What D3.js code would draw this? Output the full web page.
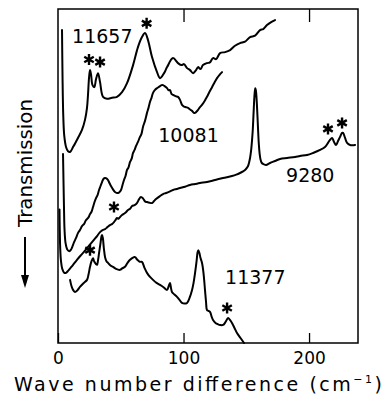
<!DOCTYPE html>
<html><head><meta charset="utf-8">
<script src="https://cdn.jsdelivr.net/npm/d3@7"></script>
<style>body{margin:0;background:#fff}</style>
</head><body><svg id="c" width="388" height="400"></svg>
<script>
// ---- data (x: wave number difference in cm^-1, y: transmission, arbitrary units) ----
const xTicks = [0, 100, 200];
const xTickLabels = ["0", "100", "200"];

const s11657 = [[3.2,93.7],[3.6,80],[4.2,68],[5.0,62],[6.4,58.7],[8.0,57.4],[9.6,57.2],[12.2,58.8],[15.9,61.4],[19.1,63.8],[21.5,66.8],[23.1,70.4],[23.9,74.3],[24.7,79.3],[25.5,81.7],[26.3,80.5],[27.5,77.2],[28.9,76.6],[30.3,79.0],[31.9,80.8],[33.5,78.1],[35.9,73.7],[39.0,73.1],[43.0,73.4],[47.0,73.7],[51.0,75.1],[55.0,77.8],[59.8,83.2],[63.7,88.6],[66.9,91.6],[69.3,92.8],[71.7,90.7],[74.9,85.6],[78.9,81.1],[81.3,79.3],[84.5,80.8],[86.9,82.6],[91.6,85.3],[95.6,83.8],[98.4,83.2],[100.4,83.5],[102.8,82.3],[105.2,81.7],[107.6,80.8],[110.0,81.7],[111.6,82.6],[113.5,82.0],[115.5,83.2],[118.7,83.8],[121.0,84.0],[123.5,85.3],[126.0,85.0],[129.1,86.8],[133.1,87.1],[137.1,87.7],[141.0,89.0],[145.0,89.8],[149.0,90.2],[153.0,91.6],[157.0,92.0],[161.0,93.7],[163.5,94.0],[166.5,95.2],[169.5,96.0],[172.9,96.7]];

const s10081 = [[4.0,56.6],[4.4,48],[4.8,40],[5.2,34],[6.0,30],[7.4,28],[9.0,27.5],[10.4,28.0],[11.6,29.0],[12.8,30.2],[14.3,31.4],[15.9,32.9],[17.5,33.8],[19.1,35.0],[20.7,35.6],[22.0,36.6],[23.1,37.1],[24.3,37.6],[25.5,38.6],[26.7,39.3],[27.9,40.7],[29.1,42.2],[30.3,43.4],[31.5,44.3],[32.7,45.8],[33.9,47.0],[35.1,48.2],[36.3,49.2],[37.5,49.4],[38.6,49.3],[39.8,48.8],[41.0,47.9],[42.2,47.0],[43.8,46.0],[45.4,45.2],[47.8,44.9],[49.0,45.2],[50.2,45.8],[51.4,47.3],[52.6,48.8],[53.8,50.0],[55.0,51.8],[56.2,52.6],[57.4,54.2],[58.6,55.1],[59.8,56.9],[61.0,57.8],[62.2,59.0],[63.7,60.2],[65.3,61.7],[66.5,62.6],[67.7,64.7],[69.3,66.5],[70.9,68.9],[72.1,70.4],[73.3,72.2],[74.5,73.4],[75.7,74.9],[77.3,75.8],[78.9,76.3],[80.1,76.6],[81.3,76.9],[82.5,77.2],[83.7,77.2],[85.3,76.8],[86.9,76.3],[88.0,75.7],[89.2,75.7],[90.4,74.6],[91.6,74.3],[93.6,73.9],[95.6,73.7],[97.2,72.8],[98.8,71.3],[100.4,70.8],[102.0,70.6],[103.6,70.4],[105.2,69.9],[106.8,69.5],[108.0,69.0],[109.2,68.9],[110.4,69.3],[111.6,69.8],[113.1,70.6],[114.7,71.3],[116.7,72.4],[118.7,73.7],[120.7,75.2],[122.7,76.6],[124.7,78.0],[126.7,79.3],[128.7,80.3],[130.7,81.1]];

const s9280 = [[1.2,40.0],[1.4,34],[1.8,28],[2.4,24.5],[3.4,22.2],[5.0,21.0],[6.4,21.0],[8.0,21.6],[10.0,22.5],[12.0,23.4],[15.1,24.9],[18.3,26.3],[20.7,27.3],[23.1,28.4],[25.1,29.3],[27.1,30.2],[29.1,31.1],[31.1,32.0],[33.5,33.2],[35.5,33.8],[37.5,34.1],[39.4,34.7],[41.4,35.3],[43.0,35.6],[44.6,36.2],[45.8,36.8],[47.0,37.4],[48.2,37.2],[49.4,37.7],[51.0,38.3],[53.4,38.9],[55.8,39.8],[57.4,40.2],[59.0,41.0],[61.0,41.3],[62.9,41.9],[64.5,43.0],[66.1,43.7],[67.7,43.3],[69.3,42.4],[70.9,42.2],[72.9,42.0],[74.9,41.9],[76.5,42.5],[78.1,43.1],[81.3,44.0],[83.7,44.6],[86.1,44.9],[88.8,45.3],[91.6,45.8],[94.4,46.1],[97.2,46.4],[101.2,46.8],[105.2,47.3],[109.2,47.6],[113.1,47.9],[118.7,48.2],[125.1,48.8],[131.5,49.4],[138.6,50.0],[142.0,50.4],[145.0,50.9],[147.4,51.4],[149.0,51.8],[150.6,52.5],[151.4,53.0],[152.2,54.0],[153.0,55.4],[153.8,57.5],[154.6,60.8],[155.2,64],[155.7,68],[156.2,72.0],[156.7,75.0],[157.2,76.3],[157.7,75.5],[158.3,72.5],[158.9,68],[159.4,63.8],[160.0,59.5],[160.6,56.8],[161.3,55.0],[162.2,54.0],[163.3,53.6],[165.7,53.3],[168.9,53.9],[172.9,54.5],[176.9,55.1],[182.5,55.4],[188.8,55.7],[192.8,56.0],[198.4,56.3],[203.2,56.9],[208.8,57.8],[212.7,58.7],[215.1,59.9],[216.7,60.8],[218.3,61.4],[219.9,60.2],[221.5,59.3],[223.1,60.5],[224.7,61.7],[226.3,62.9],[227.1,62.9],[228.7,61.4],[230.3,59.9],[232.7,59.3],[236.7,59.3]];

const s11377 = [[9.6,18.9],[10.8,17.0],[12.0,15.9],[13.5,15.3],[15.5,15.8],[17.5,16.8],[20.3,17.9],[23.1,18.9],[24.3,20.5],[25.5,22.8],[26.7,24.5],[27.9,25.4],[28.7,24.5],[29.5,24.0],[30.3,23.6],[31.1,23.4],[31.9,24.8],[32.7,26.9],[33.9,30.0],[34.7,32.0],[35.1,32.3],[35.7,31.5],[36.5,28.5],[37.5,25.7],[38.6,24.5],[39.8,24.0],[41.8,23.2],[43.8,22.8],[46.2,22.2],[49.4,21.9],[51.4,22.4],[53.4,22.8],[55.4,24.0],[57.4,24.9],[59.4,25.5],[61.4,25.7],[63.0,25.0],[64.1,24.6],[65.3,24.3],[66.9,24.3],[68.9,22.5],[70.9,21.0],[73.3,19.8],[75.7,18.9],[78.5,18.0],[81.3,17.4],[84.1,16.7],[86.9,15.9],[88.0,16.8],[89.2,18.0],[90.0,16.5],[90.8,15.3],[92.8,14.5],[94.8,13.8],[96.8,12.9],[98.8,12.0],[100.8,11.8],[102.8,12.0],[104.8,13.5],[106.8,15.9],[108.0,18.0],[109.2,21.0],[110.4,24.5],[111.2,27.2],[111.8,27.8],[112.6,27.0],[113.5,25.5],[114.7,24.0],[115.9,21.0],[117.1,15.9],[117.9,12.5],[118.7,9.9],[119.9,9.6],[121.1,9.3],[122.3,8.0],[123.5,6.9],[125.5,6.0],[127.5,5.6],[129.1,5.4],[131.5,5.4],[133.5,6.3],[135.5,7.5],[137.0,6.9],[138.6,6.0],[140.6,4.5],[142.6,3.0],[145.4,1.5],[148.2,0]];

const curveNames = ["11657", "10081", "9280", "11377"];
const curveLabelPos = [[11.2,89.8],[79.9,60.3],[181.7,48.3],[133.1,17.7]];
const starPos = [[24.7,84.9],[33.5,84.1],[70.6,95.7],[44.6,40.7],[215.1,64.1],[226.3,65.9],[25.5,27.8],[134.7,10.5]];

// ---- layout ----
const W = 388, H = 400;
const m = {left: 58, right: 30, top: 9, bottom: 57};
const svg = d3.select("#c");
const x = d3.scaleLinear().domain([0, 239]).range([m.left, W - m.right]);
const y = d3.scaleLinear().domain([0, 100]).range([H - m.bottom, m.top]);
const font = "'DejaVu Sans', 'Liberation Sans', sans-serif";

// frame
svg.append("rect")
  .attr("x", x(0)).attr("y", y(100))
  .attr("width", x(239) - x(0)).attr("height", y(0) - y(100))
  .attr("fill", "none").attr("stroke", "#000").attr("stroke-width", 1.5);

// bottom axis (inward ticks)
const xb = svg.append("g").attr("transform", `translate(0,${y(0)})`)
  .call(d3.axisBottom(x).tickValues(xTicks).tickFormat((d,i) => xTickLabels[i])
        .tickSizeInner(-10).tickSizeOuter(0).tickPadding(9));
xb.select(".domain").remove();
xb.selectAll("line").attr("stroke", "#000").attr("stroke-width", 1.3);
xb.selectAll("text").attr("font-family", font).attr("font-size", 17).attr("fill", "#000");

// top axis (inward ticks, no labels)
const xt = svg.append("g").attr("transform", `translate(0,${y(100)})`)
  .call(d3.axisTop(x).tickValues(xTicks.slice(1)).tickFormat("")
        .tickSizeInner(-13).tickSizeOuter(0));
xt.select(".domain").remove();
xt.selectAll("line").attr("stroke", "#000").attr("stroke-width", 1.3);

// curves
const line = d3.line().x(d => x(d[0])).y(d => y(d[1])).curve(d3.curveCatmullRom.alpha(0.5));
[s11657, s10081, s9280, s11377].forEach(s => {
  svg.append("path").datum(s).attr("d", line)
    .attr("fill", "none").attr("stroke", "#000").attr("stroke-width", 2)
    .attr("stroke-linejoin", "round").attr("stroke-linecap", "round");
});

// curve labels
svg.selectAll("text.lbl").data(curveNames).enter().append("text").attr("class", "lbl")
  .attr("x", (d,i) => x(curveLabelPos[i][0]))
  .attr("y", (d,i) => y(curveLabelPos[i][1]))
  .attr("font-family", font).attr("font-size", 19).attr("fill", "#000")
  .text(d => d);

// asterisks
const star = d3.symbol().type(d3.symbolAsterisk).size(85);
svg.selectAll("path.star").data(starPos).enter().append("path").attr("class", "star")
  .attr("d", star)
  .attr("transform", d => `translate(${x(d[0])},${y(d[1])})`)
  .attr("fill", "none").attr("stroke", "#000").attr("stroke-width", 2.4);

// x title
const xt2 = svg.append("text")
  .attr("x", 198).attr("y", 391).attr("text-anchor", "middle")
  .attr("font-family", font).attr("font-size", 19).attr("fill", "#000")
  .attr("textLength", 368).attr("lengthAdjust", "spacing");
xt2.append("tspan").text("Wave number difference (cm");
xt2.append("tspan").attr("dy", -8).attr("font-size", 11).text("−1");
xt2.append("tspan").attr("dy", 8).text(")");

// y title with arrow
svg.append("text")
  .attr("transform", "translate(32,163) rotate(-90)")
  .attr("text-anchor", "middle")
  .attr("font-family", font).attr("font-size", 20).attr("fill", "#000")
  .attr("textLength", 128).attr("lengthAdjust", "spacingAndGlyphs")
  .text("Transmission");
svg.append("line").attr("x1", 25).attr("x2", 25).attr("y1", 237).attr("y2", 277)
  .attr("stroke", "#000").attr("stroke-width", 2);
svg.append("path").attr("d", d3.line()([[21, 275], [29, 275], [25, 288]]))
  .attr("fill", "#000");
</script>
</body></html>
